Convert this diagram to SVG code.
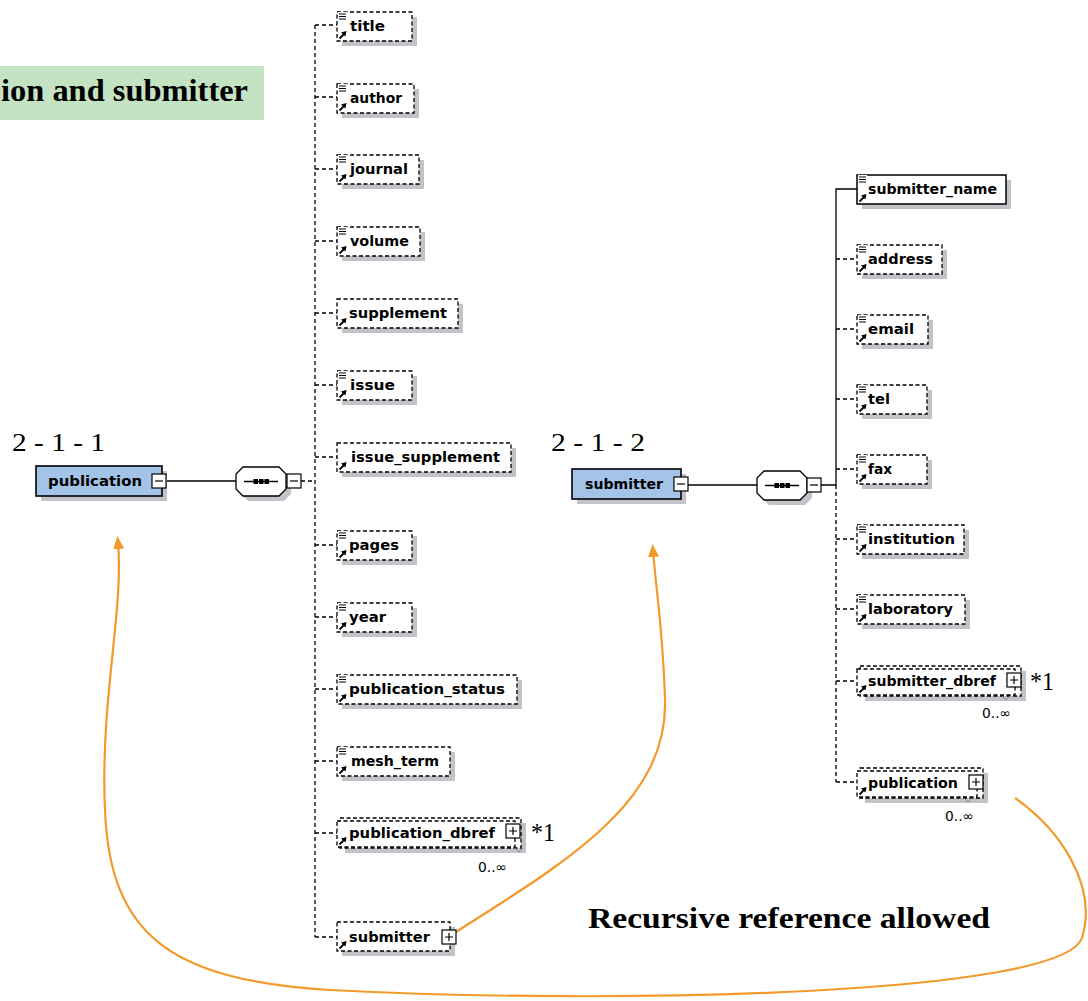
<svg xmlns="http://www.w3.org/2000/svg" width="1088" height="1001" viewBox="0 0 1088 1001">
  <defs>
    <style>
      .lbl { font-family: "DejaVu Sans", Verdana, sans-serif; font-weight: bold; font-size: 14.5px; fill: #000; }
      .num { font-family: "Liberation Serif", "Times New Roman", serif; font-size: 25px; fill: #000; }
      .occ { font-family: "DejaVu Sans", sans-serif; font-size: 14px; fill: #000; }
      .box { fill: #fff; stroke: #000; stroke-width: 1.3; stroke-dasharray: 4 2.5; }
      .box-solid { fill: #fff; stroke: #000; stroke-width: 1.5; }
      .shadow { fill: #c2c2c8; }
      .main { fill: #a3c4e8; stroke: #000; stroke-width: 1.6; }
      .conn { fill: none; stroke: #000; stroke-width: 1.3; }
      .dash { fill: none; stroke: #000; stroke-width: 1.3; stroke-dasharray: 4 3; }
      .toggle { fill: #fff; stroke: #000; stroke-width: 1.2; }
      .ref { fill: none; stroke: #f39a2c; stroke-width: 2.2; }
    </style>
    <!-- documentation glyph (three bars) at top-left of an element box -->
    <g id="doc">
      <rect x="-1" y="-2" width="9" height="8" fill="#fff"/>
      <path d="M0 0h7M0 2.5h7M0 5h7" stroke="#000" stroke-width="1"/>
    </g>
    <!-- reference arrow at bottom-left of an element box -->
    <g id="refarrow">
      <rect x="-1" y="-7" width="9" height="9" fill="#fff"/>
      <path d="M0.5 0.5 L5 -4" stroke="#000" stroke-width="1.8"/>
      <path d="M2 -5.5 L7.5 -7 L6.5 -1.5 Z" fill="#000"/>
    </g>
    <g id="minus">
      <rect x="0" y="0" width="14" height="14" class="toggle"/>
      <path d="M3 7h8" stroke="#000" stroke-width="1.2"/>
    </g>
    <g id="plus">
      <rect x="0" y="0" width="14" height="14" class="toggle"/>
      <path d="M3 7h8M7 3v8" stroke="#000" stroke-width="1.2"/>
    </g>
    <!-- sequence compositor -->
    <g id="seq">
      <polygon points="7,0 43,0 50,7 50,22 43,29 7,29 0,22 0,7" transform="translate(5,5)" class="shadow"/>
      <polygon points="7,0 43,0 50,7 50,22 43,29 7,29 0,22 0,7" fill="#fff" stroke="#000" stroke-width="1.3"/>
      <path d="M8 14.5h34" stroke="#000" stroke-width="1.3"/>
      <rect x="17.5" y="12" width="4.5" height="5" fill="#000"/>
      <rect x="23" y="12" width="4.5" height="5" fill="#000"/>
      <rect x="28.5" y="12" width="4.5" height="5" fill="#000"/>
    </g>
    <marker id="arrowhead" markerWidth="14" markerHeight="14" refX="7" refY="7" orient="auto" markerUnits="userSpaceOnUse">
      <path d="M0 1.5 L13 7 L0 12.5 Z" fill="#f39a2c"/>
    </marker>
  </defs>

  <rect width="1088" height="1001" fill="#fff"/>

  <!-- heading -->
  <g id="heading">
    <rect x="0" y="66" width="264" height="54" fill="#c4e3c3"/>
    <text x="1" y="101" font-family="Liberation Serif, Times New Roman, serif" font-weight="bold" font-size="31" textLength="247" lengthAdjust="spacingAndGlyphs">ion and submitter</text>
  </g>

  <!-- connectors -->
  <g id="connectors">
    <!-- publication tree -->
    <path class="conn" d="M167 481H236"/>
    <path class="dash" d="M301 481H315"/>
    <path class="dash" d="M315 25V937"/>
    <path class="dash" d="M315 25H337M315 97H337M315 169H337M315 241H337M315 313H337M315 385H337M315 457H337M315 545H337M315 617H337M315 689H337M315 761H337M315 833H337M315 937H337"/>
    <!-- submitter tree -->
    <path class="conn" d="M688 485H757"/>
    <path class="conn" d="M821 485H836V189H857"/>
    <path class="dash" d="M836 485V782"/>
    <path class="dash" d="M836 259H857M836 329H857M836 399H857M836 469H857M836 539H857M836 609H857M836 681H857M836 782H857"/>
    <!-- recursive references -->
    <path class="ref" d="M456 932 C560 865 668 805 665 700 C663 630 656 590 653 550" marker-end="url(#arrowhead)"/>
    <path class="ref" d="M1015 798 C1060 830 1098 885 1082 938 C1062 995 620 1005 330 990 C170 980 110 935 105 810 C100 700 124 610 118 542" marker-end="url(#arrowhead)"/>
  </g>

  <!-- publication (2-1-1) -->
  <g id="publication-root">
    <text class="num" x="12" y="451" textLength="93" lengthAdjust="spacingAndGlyphs">2 - 1 - 1</text>
    <rect x="41" y="471" width="126" height="30" class="shadow"/>
    <rect x="36" y="466" width="126" height="30" class="main"/>
    <text class="lbl" x="48" y="486" textLength="94" lengthAdjust="spacingAndGlyphs">publication</text>
    <use href="#minus" x="152" y="474"/>
    <use href="#seq" x="236" y="467"/>
    <use href="#minus" x="287" y="474"/>
  </g>

  <g id="title">
    <rect x="342" y="17" width="75" height="29" class="shadow"/>
    <rect x="337" y="12" width="75" height="29" class="box"/>
    <use href="#doc" x="339" y="14"/><use href="#refarrow" x="339" y="38"/>
    <text class="lbl" x="350" y="31" textLength="35" lengthAdjust="spacingAndGlyphs">title</text>
  </g>
  <g id="author">
    <rect x="342" y="89" width="77" height="29" class="shadow"/>
    <rect x="337" y="84" width="77" height="29" class="box"/>
    <use href="#doc" x="339" y="86"/><use href="#refarrow" x="339" y="110"/>
    <text class="lbl" x="350" y="103" textLength="52" lengthAdjust="spacingAndGlyphs">author</text>
  </g>
  <g id="journal">
    <rect x="342" y="160" width="82" height="29" class="shadow"/>
    <rect x="337" y="155" width="82" height="29" class="box"/>
    <use href="#doc" x="339" y="157"/><use href="#refarrow" x="339" y="181"/>
    <text class="lbl" x="350" y="174" textLength="58" lengthAdjust="spacingAndGlyphs">journal</text>
  </g>
  <g id="volume">
    <rect x="342" y="232" width="83" height="29" class="shadow"/>
    <rect x="337" y="227" width="83" height="29" class="box"/>
    <use href="#doc" x="339" y="229"/><use href="#refarrow" x="339" y="253"/>
    <text class="lbl" x="350" y="246" textLength="59" lengthAdjust="spacingAndGlyphs">volume</text>
  </g>
  <g id="supplement">
    <rect x="342" y="304" width="121" height="29" class="shadow"/>
    <rect x="337" y="299" width="121" height="29" class="box"/>
    <use href="#refarrow" x="339" y="325"/>
    <text class="lbl" x="349" y="318" textLength="98" lengthAdjust="spacingAndGlyphs">supplement</text>
  </g>
  <g id="issue">
    <rect x="342" y="376" width="75" height="29" class="shadow"/>
    <rect x="337" y="371" width="75" height="29" class="box"/>
    <use href="#doc" x="339" y="373"/><use href="#refarrow" x="339" y="397"/>
    <text class="lbl" x="350" y="390" textLength="45" lengthAdjust="spacingAndGlyphs">issue</text>
  </g>
  <g id="issue_supplement">
    <rect x="342" y="448" width="174" height="29" class="shadow"/>
    <rect x="337" y="443" width="174" height="29" class="box"/>
    <use href="#refarrow" x="339" y="469"/>
    <text class="lbl" x="351" y="462" textLength="149" lengthAdjust="spacingAndGlyphs">issue_supplement</text>
  </g>
  <g id="pages">
    <rect x="342" y="536" width="75" height="29" class="shadow"/>
    <rect x="337" y="531" width="75" height="29" class="box"/>
    <use href="#doc" x="339" y="533"/><use href="#refarrow" x="339" y="557"/>
    <text class="lbl" x="349" y="550" textLength="50" lengthAdjust="spacingAndGlyphs">pages</text>
  </g>
  <g id="year">
    <rect x="342" y="608" width="75" height="29" class="shadow"/>
    <rect x="337" y="603" width="75" height="29" class="box"/>
    <use href="#doc" x="339" y="605"/><use href="#refarrow" x="339" y="629"/>
    <text class="lbl" x="349" y="622" textLength="37" lengthAdjust="spacingAndGlyphs">year</text>
  </g>
  <g id="publication_status">
    <rect x="342" y="680" width="180" height="29" class="shadow"/>
    <rect x="337" y="675" width="180" height="29" class="box"/>
    <use href="#doc" x="339" y="677"/><use href="#refarrow" x="339" y="701"/>
    <text class="lbl" x="349" y="694" textLength="156" lengthAdjust="spacingAndGlyphs">publication_status</text>
  </g>
  <g id="mesh_term">
    <rect x="342" y="752" width="113" height="29" class="shadow"/>
    <rect x="337" y="747" width="113" height="29" class="box"/>
    <use href="#doc" x="339" y="749"/><use href="#refarrow" x="339" y="773"/>
    <text class="lbl" x="351" y="766" textLength="88" lengthAdjust="spacingAndGlyphs">mesh_term</text>
  </g>
  <g id="publication_dbref">
    <rect x="345" y="823" width="181" height="30" class="shadow"/>
    <rect x="340" y="818" width="181" height="30" class="box"/>
    <rect x="337" y="821" width="178" height="26" class="box"/>
    <use href="#refarrow" x="339" y="844"/>
    <text class="lbl" x="349" y="838" textLength="146" lengthAdjust="spacingAndGlyphs">publication_dbref</text>
    <use href="#plus" x="506" y="824"/>
    <path d="M515 848l4 4 4-4" fill="none" stroke="#888" stroke-width="1"/>
    <text class="num" x="531" y="841" textLength="24" lengthAdjust="spacingAndGlyphs">*1</text>
    <text class="occ" x="478" y="872" textLength="29" lengthAdjust="spacingAndGlyphs">0..∞</text>
  </g>
  <g id="submitter">
    <rect x="342" y="927" width="113" height="29" class="shadow"/>
    <rect x="337" y="922" width="113" height="29" class="box"/>
    <use href="#refarrow" x="339" y="948"/>
    <text class="lbl" x="349" y="942" textLength="81" lengthAdjust="spacingAndGlyphs">submitter</text>
    <use href="#plus" x="442" y="930"/>
  </g>

  <!-- submitter (2-1-2) -->
  <g id="submitter-root">
    <text class="num" x="551" y="451" textLength="94" lengthAdjust="spacingAndGlyphs">2 - 1 - 2</text>
    <rect x="577" y="474" width="109" height="30" class="shadow"/>
    <rect x="572" y="469" width="109" height="30" class="main"/>
    <text class="lbl" x="585" y="489" textLength="78" lengthAdjust="spacingAndGlyphs">submitter</text>
    <use href="#minus" x="674" y="477"/>
    <use href="#seq" x="757" y="471"/>
    <use href="#minus" x="807" y="478"/>
  </g>

  <g id="submitter_name">
    <rect x="862" y="180" width="149" height="29" class="shadow"/>
    <rect x="857" y="175" width="149" height="29" class="box-solid"/>
    <use href="#doc" x="859" y="177"/><use href="#refarrow" x="859" y="201"/>
    <text class="lbl" x="868" y="194" textLength="129" lengthAdjust="spacingAndGlyphs">submitter_name</text>
  </g>
  <g id="address">
    <rect x="862" y="250" width="85" height="29" class="shadow"/>
    <rect x="857" y="245" width="85" height="29" class="box"/>
    <use href="#doc" x="859" y="247"/><use href="#refarrow" x="859" y="271"/>
    <text class="lbl" x="868" y="264" textLength="65" lengthAdjust="spacingAndGlyphs">address</text>
  </g>
  <g id="email">
    <rect x="862" y="320" width="71" height="29" class="shadow"/>
    <rect x="857" y="315" width="71" height="29" class="box"/>
    <use href="#doc" x="859" y="317"/><use href="#refarrow" x="859" y="341"/>
    <text class="lbl" x="868" y="334" textLength="46" lengthAdjust="spacingAndGlyphs">email</text>
  </g>
  <g id="tel">
    <rect x="862" y="390" width="70" height="29" class="shadow"/>
    <rect x="857" y="385" width="70" height="29" class="box"/>
    <use href="#doc" x="859" y="387"/><use href="#refarrow" x="859" y="411"/>
    <text class="lbl" x="868" y="404" textLength="22" lengthAdjust="spacingAndGlyphs">tel</text>
  </g>
  <g id="fax">
    <rect x="862" y="460" width="70" height="29" class="shadow"/>
    <rect x="857" y="455" width="70" height="29" class="box"/>
    <use href="#doc" x="859" y="457"/><use href="#refarrow" x="859" y="481"/>
    <text class="lbl" x="868" y="474" textLength="24" lengthAdjust="spacingAndGlyphs">fax</text>
  </g>
  <g id="institution">
    <rect x="862" y="530" width="107" height="29" class="shadow"/>
    <rect x="857" y="525" width="107" height="29" class="box"/>
    <use href="#doc" x="859" y="527"/><use href="#refarrow" x="859" y="551"/>
    <text class="lbl" x="868" y="544" textLength="87" lengthAdjust="spacingAndGlyphs">institution</text>
  </g>
  <g id="laboratory">
    <rect x="862" y="600" width="108" height="29" class="shadow"/>
    <rect x="857" y="595" width="108" height="29" class="box"/>
    <use href="#doc" x="859" y="597"/><use href="#refarrow" x="859" y="621"/>
    <text class="lbl" x="868" y="614" textLength="85" lengthAdjust="spacingAndGlyphs">laboratory</text>
  </g>
  <g id="submitter_dbref">
    <rect x="865" y="671" width="161" height="30" class="shadow"/>
    <rect x="860" y="666" width="161" height="30" class="box"/>
    <rect x="857" y="669" width="158" height="26" class="box"/>
    <use href="#refarrow" x="859" y="692"/>
    <text class="lbl" x="868" y="686" textLength="128" lengthAdjust="spacingAndGlyphs">submitter_dbref</text>
    <use href="#plus" x="1007" y="673"/>
    <path d="M1002 696l4 4 4-4" fill="none" stroke="#888" stroke-width="1"/>
    <text class="num" x="1030" y="690" textLength="24" lengthAdjust="spacingAndGlyphs">*1</text>
    <text class="occ" x="982" y="718" textLength="29" lengthAdjust="spacingAndGlyphs">0..∞</text>
  </g>
  <g id="publication-ref">
    <rect x="865" y="773" width="123" height="30" class="shadow"/>
    <rect x="860" y="768" width="123" height="30" class="box"/>
    <rect x="857" y="771" width="120" height="26" class="box"/>
    <use href="#refarrow" x="859" y="794"/>
    <text class="lbl" x="868" y="788" textLength="90" lengthAdjust="spacingAndGlyphs">publication</text>
    <use href="#plus" x="969" y="775"/>
    <path d="M964 798l4 4 4-4" fill="none" stroke="#888" stroke-width="1"/>
    <text class="occ" x="945" y="821" textLength="29" lengthAdjust="spacingAndGlyphs">0..∞</text>
  </g>

  <g id="note">
    <text x="588" y="928" font-family="Liberation Serif, Times New Roman, serif" font-weight="bold" font-size="29" textLength="402" lengthAdjust="spacingAndGlyphs">Recursive reference allowed</text>
  </g>
</svg>
